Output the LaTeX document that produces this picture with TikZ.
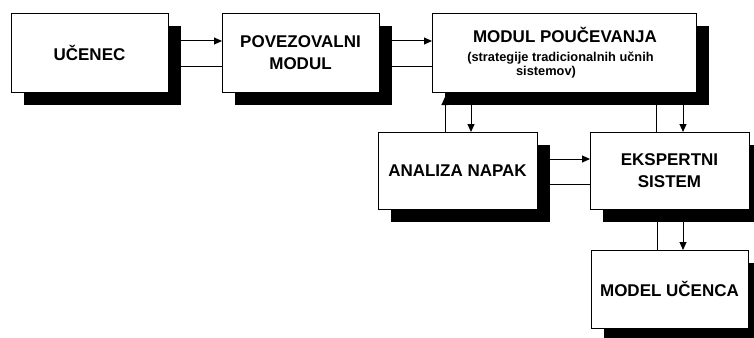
\documentclass[tikz,border=0pt]{standalone}
\usepackage{fontspec}
\setmainfont{Liberation Sans}
\usetikzlibrary{arrows.meta}
\pgfdeclarelayer{connlayer}
\pgfdeclarelayer{shadowlayer}
\pgfsetlayers{connlayer,shadowlayer,main}
\begin{document}
\begin{tikzpicture}[x=1pt,y=-1pt,
  box/.style={draw=black, line width=0.9pt, fill=white, inner sep=0pt, outer sep=0pt,
    align=center, font=\bfseries\fontsize{17}{22}\selectfont},
  bigtxt/.style={anchor=base, inner sep=0pt, font=\bfseries\fontsize{17}{22}\selectfont},
  smalltxt/.style={anchor=base, inner sep=0pt, font=\bfseries\fontsize{12.8}{13}\selectfont},
  conn/.style={line width=1pt},
  arr/.style={conn, -{Triangle[length=8pt,width=7pt]}},
  shadowfill/.style={fill=black}]
\clip (0,0) rectangle (754,337);
\useasboundingbox (0,0) rectangle (754,337);

\node[box, minimum width=157pt, minimum height=79pt] (ucenec) at (89.5,52.5) {UČENEC};
\node[box, minimum width=157pt, minimum height=79pt] (povez) at (300.5,52.5) {POVEZOVALNI\\MODUL};
\node[box, minimum width=264pt, minimum height=79pt] (modul) at (564,52.5) {};
\node[bigtxt] (modultitle) at (565,43) {MODUL POUČEVANJA};
\node[smalltxt] (modulsub1) at (560.5,61) {(strategije tradicionalnih učnih};
\node[smalltxt] (modulsub2) at (546,75) {sistemov)};
\node[box, minimum width=159pt, minimum height=77pt] (analiza) at (457.5,170.5) {ANALIZA NAPAK};
\node[box, minimum width=159pt, minimum height=77pt] (eksp) at (669.5,170.5) {EKSPERTNI\\SISTEM};
\node[box, minimum width=157pt, minimum height=78pt] (model) at (669.5,289) {MODEL UČENCA};

\begin{pgfonlayer}{shadowlayer}
\foreach \n in {ucenec,povez,modul,analiza,eksp,model}
  \fill[shadowfill] ([shift={(13,13)}]\n.south west) rectangle ([shift={(13,13)}]\n.north east);
\end{pgfonlayer}

\begin{pgfonlayer}{connlayer}
\draw[arr] ([yshift=11.5pt]ucenec.east) -- ([yshift=11.5pt]povez.west);
\draw[conn] ([yshift=-13.5pt]ucenec.east) -- ([yshift=-13.5pt]povez.west);
\draw[arr] ([yshift=11.5pt]povez.east) -- ([yshift=11.5pt]modul.west);
\draw[conn] ([yshift=-13.5pt]povez.east) -- ([yshift=-13.5pt]modul.west);
\draw[arr, shorten >=5pt] ([xshift=-12.5pt]analiza.north) -- ([xshift=-12.5pt]analiza.north |- modul.south);
\draw[arr] ([xshift=13.5pt]analiza.north |- modul.south) -- ([xshift=13.5pt]analiza.north);
\draw[conn] ([xshift=-13.5pt]eksp.north) -- ([xshift=-13.5pt]eksp.north |- modul.south);
\draw[arr] ([xshift=13.5pt]eksp.north |- modul.south) -- ([xshift=13.5pt]eksp.north);
\draw[arr] ([yshift=11.5pt]analiza.east) -- ([yshift=11.5pt]eksp.west);
\draw[conn] ([yshift=-13.5pt]analiza.east) -- ([yshift=-13.5pt]eksp.west);
\draw[conn] ([xshift=-12.5pt]model.north |- eksp.south) -- ([xshift=-12.5pt]model.north);
\draw[arr] ([xshift=13.5pt]model.north |- eksp.south) -- ([xshift=13.5pt]model.north);
\end{pgfonlayer}
\end{tikzpicture}
\end{document}
